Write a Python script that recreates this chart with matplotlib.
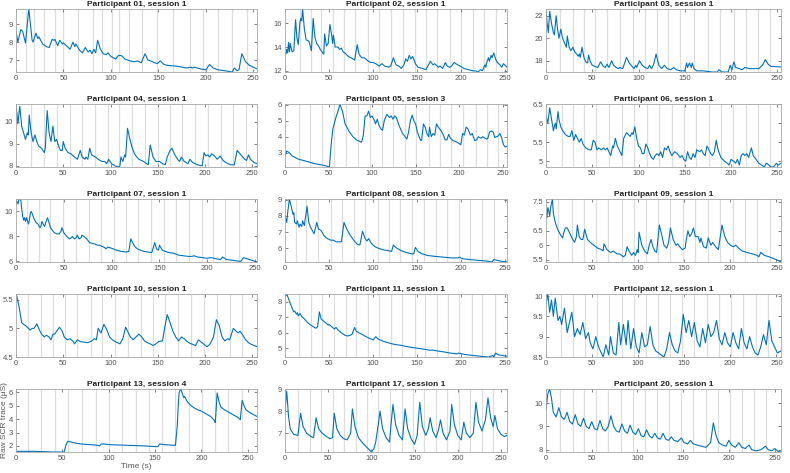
import matplotlib
matplotlib.use("Agg")
import matplotlib.pyplot as plt
from matplotlib.ticker import FormatStrFormatter

plt.rcParams['font.family'] = ['Liberation Sans', 'DejaVu Sans']

# (time s, skin conductance uS) points
p01 = [(0, 8.6), (2, 8.0), (5, 8.7), (7, 8.6), (10, 7.95), (13.5, 9.85), (17, 8.1), (18, 8.0), (21, 8.5),
       (23, 8.2), (24, 8.3), (28, 7.9), (32, 7.75), (35, 7.7), (38, 8.15), (40, 8.1), (41, 8.15), (44, 7.8),
       (46, 8.1), (49, 7.9), (50, 7.95), (54, 7.75), (57, 7.6), (60, 8.0), (62, 7.75), (63, 7.9), (67, 7.55),
       (70, 7.4), (73, 7.7), (76, 7.45), (78, 7.55), (80, 7.35), (82, 7.6), (84, 7.4), (86, 8.1), (89, 7.6),
       (92, 7.35), (95, 7.3), (97, 7.4), (100, 7.2), (105, 7.05), (108, 7.25), (111, 7.25), (115, 7.05),
       (120, 6.95), (125, 6.9), (128, 6.95), (132, 6.85), (136, 7.35), (139, 7.0), (142, 6.95), (146, 6.85),
       (149, 6.8), (152, 6.95), (156, 6.75), (160, 6.7), (170, 6.65), (180, 6.55), (184, 6.6), (186, 6.55),
       (188, 6.6), (195, 6.5), (200, 6.45), (204, 6.75), (208, 6.55), (213, 6.45), (220, 6.4), (228, 6.33),
       (230, 6.55), (233, 6.4), (235, 6.45), (238, 7.35), (242, 6.9), (246, 6.7), (250, 6.6), (254, 6.5)]
ev01 = [11, 19, 29, 41, 50, 65, 81, 91, 101, 109, 119, 133, 149, 165, 183, 197, 213, 228, 243]

p02 = [(0, 13.5), (1, 13.4), (2, 13.8), (3, 13.5), (4, 14.4), (5, 13.6), (6, 14.3), (8, 13.6), (10, 13.7),
       (12, 16.3), (13.5, 14.8), (15, 14.2), (17, 16.1), (18, 16.4), (19, 16.2), (20, 17.2), (22, 15.5),
       (24, 14.6), (27, 14.5), (29, 14.0), (30, 13.7), (32, 16.4), (34, 14.8), (36, 14.3), (38, 14.1),
       (40, 13.8), (44, 13.4), (45, 15.1), (47, 14.1), (49, 14.3), (51, 15.9), (53, 15.0), (54, 14.3),
       (55, 15.0), (57, 14.0), (60, 14.0), (62, 13.8), (64, 13.9), (66, 13.6), (68, 13.5), (72, 13.2),
       (75, 13.1), (79, 12.9), (82, 14.2), (84, 13.4), (87, 13.1), (90, 13.1), (93, 12.9), (97, 12.7),
       (100, 12.7), (103, 12.6), (107, 12.4), (110, 12.6), (113, 12.4), (118, 12.3), (120, 12.4), (123, 13.1),
       (126, 12.5), (129, 12.4), (132, 12.2), (135, 12.5), (137, 13.0), (139, 12.8), (141, 13.3), (143, 13.0),
       (145, 13.2), (148, 12.6), (151, 12.3), (156, 12.2), (160, 12.1), (165, 12.8), (168, 12.5), (170, 12.6),
       (174, 12.3), (176, 12.4), (179, 12.2), (182, 12.7), (184, 12.4), (187, 12.3), (189, 12.4), (192, 12.7),
       (196, 12.5), (199, 12.4), (203, 12.2), (208, 12.1), (213, 12.0), (216, 12.0), (219, 11.9), (222, 12.1),
       (224, 12.0), (227, 12.5), (228, 12.3), (229, 12.7), (231, 13.1), (232, 12.8), (234, 13.3), (235, 13.1),
       (237, 13.5), (239, 13.0), (241, 12.7), (244, 12.5), (246, 12.3), (248, 12.6), (252, 12.3)]
ev02 = [17, 29, 41, 54, 67, 80, 94, 107, 120, 134, 147, 160, 173, 187, 200, 213, 226, 239]

p03 = [(0, 22.6), (1, 21.5), (2.5, 20.5), (4, 22.4), (6, 21.3), (8, 20.5), (9, 20.3), (11, 22.0), (12.5, 20.8),
       (14, 20.0), (16, 20.8), (18, 20.0), (20, 19.6), (22, 19.2), (23, 20.2), (25, 19.2), (27, 18.9), (29, 19.2),
       (31, 18.8), (33, 18.6), (35, 18.4), (36, 18.6), (37, 18.3), (39, 19.2), (41, 18.3), (43, 17.9), (45, 17.8),
       (46, 18.5), (48, 17.9), (50, 17.6), (53, 17.5), (56, 17.4), (59, 17.9), (62, 17.5), (64, 17.4), (66, 17.7),
       (68, 17.4), (71, 18.0), (73, 17.6), (76, 17.4), (78, 17.3), (80, 17.4), (83, 17.3), (87, 18.3), (90, 17.8),
       (93, 17.5), (95, 17.3), (97, 17.6), (98, 17.4), (101, 18.0), (104, 17.6), (107, 17.4), (110, 17.3),
       (112, 17.6), (114, 17.3), (116, 17.6), (117, 17.9), (119, 18.6), (122, 17.6), (125, 17.3), (128, 17.6),
       (131, 17.3), (135, 17.2), (138, 17.4), (141, 17.2), (145, 17.1), (150, 17.1), (152, 17.8), (153, 17.4),
       (155, 17.8), (157, 17.4), (158, 17.8), (160, 17.3), (163, 17.1), (170, 17.1), (180, 17.0), (185, 17.0),
       (187, 17.2), (190, 17.0), (197, 17.0), (199, 17.6), (201, 17.2), (203, 17.9), (205, 17.4), (209, 17.3),
       (212, 17.2), (215, 17.4), (220, 17.3), (230, 17.3), (234, 17.6), (237, 18.1), (240, 17.7), (243, 17.5),
       (254, 17.45)]
ev03 = [15, 29, 41, 53, 66, 80, 94, 107, 120, 132, 145, 160, 175, 188, 203, 216, 229, 242]

p04 = [(0, 10.8), (2, 9.9), (4, 10.7), (6, 9.8), (8, 9.5), (10, 9.2), (12, 9.5), (13, 9.4), (14, 10.3), (16, 9.5),
       (18, 9.1), (20, 9.4), (22, 9.1), (24, 8.9), (27, 8.8), (30, 8.6), (31, 8.8), (33, 10.5), (35, 9.5),
       (37, 9.1), (39, 9.8), (41, 9.1), (43, 9.2), (45, 8.9), (47, 8.7), (49, 8.7), (50, 9.1), (52, 8.8),
       (55, 8.6), (58, 8.55), (62, 8.4), (65, 8.3), (68, 8.7), (70, 8.4), (73, 8.3), (74, 8.4), (76, 8.3),
       (78, 8.8), (80, 8.5), (84, 8.4), (87, 8.3), (91, 8.2), (94, 8.2), (96, 8.1), (98, 8.3), (101, 8.1),
       (105, 8.0), (108, 7.95), (110, 8.0), (111, 8.4), (113, 8.2), (115, 8.5), (116, 8.4), (118, 9.7),
       (120, 9.3), (123, 8.8), (126, 8.5), (130, 8.3), (135, 8.2), (140, 8.05), (142, 8.95), (145, 8.4),
       (148, 8.2), (152, 8.2), (155, 8.1), (158, 8.05), (160, 8.4), (163, 8.7), (165, 8.8), (168, 8.5),
       (171, 8.3), (173, 8.2), (175, 8.4), (178, 8.2), (182, 8.1), (184, 8.3), (187, 8.15), (192, 8.05),
       (197, 8.0), (199, 8.6), (201, 8.45), (203, 8.5), (205, 8.4), (207, 8.55), (210, 8.45), (213, 8.3),
       (216, 8.45), (219, 8.25), (222, 8.15), (227, 8.05), (231, 8.05), (234, 8.7), (238, 8.5), (242, 8.3),
       (244, 8.25), (246, 8.5), (248, 8.3), (252, 8.15), (255, 8.1)]
ev04 = [16, 30, 43, 57, 70, 84, 97, 109, 123, 136, 150, 163, 176, 189, 203, 217, 230, 243]

p05 = [(0, 2.8), (2, 3.1), (5, 3.0), (8, 2.8), (15, 2.6), (25, 2.45), (35, 2.3), (45, 2.2), (51, 2.1), (53, 3.5),
       (55, 4.5), (57, 4.9), (59, 5.3), (61, 5.6), (63, 6.05), (66, 5.6), (69, 4.8), (71, 4.6), (74, 4.3),
       (78, 4.0), (82, 3.8), (86, 3.7), (88, 3.65), (90, 4.1), (92, 5.3), (94, 5.3), (96, 5.6), (98, 5.2),
       (100, 5.3), (102, 5.1), (104, 4.8), (106, 5.1), (108, 4.7), (110, 4.5), (112, 4.4), (114, 5.0),
       (117, 5.4), (120, 5.2), (122, 5.3), (124, 5.1), (126, 5.3), (128, 5.2), (131, 4.7), (135, 4.2),
       (138, 4.0), (140, 3.85), (142, 4.3), (144, 5.0), (146, 5.35), (148, 5.0), (150, 4.8), (152, 4.3),
       (154, 4.0), (156, 3.75), (157, 3.8), (159, 4.8), (161, 4.6), (163, 4.2), (165, 4.0), (166, 4.6),
       (168, 4.0), (170, 4.2), (172, 4.1), (174, 4.8), (176, 4.6), (179, 4.4), (182, 4.1), (184, 3.8),
       (186, 3.8), (188, 4.15), (190, 3.9), (193, 3.75), (196, 3.7), (199, 3.6), (202, 3.5), (204, 4.2),
       (206, 4.1), (208, 4.6), (210, 4.5), (213, 4.1), (215, 4.2), (218, 3.75), (220, 3.8), (222, 4.0),
       (225, 3.9), (227, 4.0), (230, 3.9), (232, 3.85), (233, 3.9), (235, 4.3), (237, 4.35), (239, 4.3),
       (241, 3.95), (243, 4.0), (245, 4.05), (247, 4.2), (249, 3.9), (251, 3.5), (253, 3.35), (255, 3.4)]
ev05 = [16, 29, 42, 56, 70, 84, 98, 111, 124, 138, 151, 165, 178, 191, 204, 219, 232, 245]

p06 = [(0, 6.2), (2, 6.0), (4, 6.4), (6, 6.1), (8, 5.8), (10, 6.0), (11, 5.85), (13, 6.3), (14, 6.1), (16, 5.9),
       (18, 5.8), (21, 5.7), (24, 5.65), (26, 5.65), (28, 5.8), (30, 5.55), (32, 5.7), (34, 5.6), (36, 5.5),
       (38, 5.6), (40, 5.45), (43, 5.35), (47, 5.3), (49, 5.3), (51, 5.55), (53, 5.5), (55, 5.3), (57, 5.35),
       (60, 5.3), (62, 5.35), (64, 5.3), (66, 5.35), (68, 5.25), (70, 5.15), (72, 5.4), (73, 5.35), (75, 5.6),
       (77, 5.4), (79, 5.3), (81, 5.2), (82, 5.15), (84, 5.6), (87, 5.75), (89, 5.7), (91, 5.65), (93, 5.75),
       (94, 5.7), (96, 5.9), (98, 5.6), (100, 5.4), (102, 5.35), (104, 5.2), (106, 5.2), (108, 5.45), (110, 5.35),
       (112, 5.2), (114, 5.1), (116, 5.05), (118, 5.15), (120, 5.2), (122, 5.15), (124, 5.25), (126, 5.1),
       (128, 5.35), (130, 5.3), (132, 5.4), (134, 5.25), (136, 5.15), (139, 5.25), (142, 5.2), (145, 5.1),
       (147, 5.15), (149, 5.05), (151, 5.0), (153, 5.25), (155, 5.1), (157, 5.05), (159, 5.2), (161, 5.1),
       (163, 5.3), (166, 5.25), (168, 5.3), (170, 5.2), (172, 5.15), (174, 5.4), (176, 5.3), (178, 5.2),
       (180, 5.15), (182, 5.25), (184, 5.55), (186, 5.3), (189, 5.1), (193, 5.0), (196, 4.95), (198, 4.9),
       (200, 5.05), (203, 5.0), (205, 4.95), (207, 5.05), (209, 4.9), (211, 5.15), (213, 5.2), (215, 5.15),
       (217, 5.2), (219, 5.1), (222, 5.35), (224, 5.15), (227, 5.05), (230, 4.95), (233, 4.9), (236, 4.85),
       (238, 4.95), (241, 4.9), (243, 4.85), (246, 4.85), (249, 4.95), (251, 4.9), (254, 4.95)]
ev06 = [17, 29, 41, 54, 68, 82, 95, 109, 122, 136, 149, 162, 176, 189, 202, 216, 229, 242]

p07 = [(0, 10.7), (1, 10.8), (2, 10.6), (3, 11.0), (5, 10.9), (6, 10.2), (7, 9.6), (8, 9.3), (9, 9.5), (10, 9.2),
       (11, 9.5), (13, 9.0), (14, 9.3), (15, 9.9), (16, 10.0), (17, 9.8), (19, 9.4), (21, 9.1), (23, 9.0),
       (25, 8.7), (26, 8.8), (27, 9.2), (29, 8.9), (30, 8.8), (31, 9.1), (33, 9.5), (35, 9.0), (36, 8.7),
       (38, 8.5), (40, 8.3), (43, 8.2), (45, 8.2), (47, 8.4), (48, 8.7), (50, 8.3), (53, 8.0), (56, 7.8),
       (58, 7.9), (59, 8.0), (61, 7.8), (63, 7.9), (64, 8.1), (66, 7.8), (68, 7.9), (69, 8.1), (71, 8.0),
       (74, 7.8), (77, 7.5), (82, 7.4), (85, 7.3), (87, 7.3), (90, 7.2), (93, 7.1), (94, 7.0), (96, 7.15),
       (100, 7.05), (105, 6.9), (110, 6.8), (115, 6.75), (118, 6.8), (120, 7.8), (124, 7.2), (127, 7.0),
       (130, 6.9), (134, 6.8), (138, 6.75), (142, 6.7), (145, 7.5), (147, 7.0), (149, 6.9), (150, 7.3),
       (153, 6.9), (156, 6.8), (160, 6.7), (165, 6.65), (170, 6.5), (175, 6.45), (180, 6.4), (184, 6.4),
       (186, 6.45), (190, 6.35), (195, 6.3), (200, 6.25), (204, 6.3), (210, 6.2), (214, 6.15), (216, 6.35),
       (220, 6.15), (225, 6.1), (230, 6.05), (235, 6.0), (238, 6.3), (242, 6.2), (246, 6.1), (250, 6.0),
       (252, 5.95)]
ev07 = [12, 24, 36, 49, 63, 76, 89, 102, 115, 128, 141, 155, 167, 181, 194, 206, 219, 233]

p08 = [(0, 8.0), (2, 7.6), (3, 8.2), (5, 9.05), (7, 8.6), (9, 8.1), (10, 8.2), (11, 7.6), (13, 7.5), (14, 7.7),
       (16, 7.3), (17, 7.5), (19, 7.35), (20, 7.7), (22, 7.4), (25, 8.6), (27, 7.6), (29, 7.3), (31, 7.1),
       (33, 6.9), (36, 7.6), (38, 7.2), (41, 7.1), (44, 6.8), (48, 6.6), (52, 6.5), (55, 6.5), (58, 6.4),
       (64, 6.4), (67, 7.6), (70, 7.2), (74, 6.8), (78, 6.5), (82, 6.25), (85, 6.2), (88, 7.05), (91, 6.6),
       (93, 6.45), (95, 6.6), (98, 6.3), (102, 6.1), (106, 6.0), (112, 5.9), (118, 5.85), (121, 5.8),
       (123, 6.2), (127, 6.0), (132, 5.85), (137, 5.75), (144, 5.65), (146, 5.65), (148, 6.05), (151, 5.8),
       (156, 5.65), (162, 5.55), (170, 5.5), (180, 5.45), (190, 5.4), (196, 5.4), (198, 5.45), (202, 5.35),
       (210, 5.3), (220, 5.25), (230, 5.2), (235, 5.15), (237, 5.3), (241, 5.25), (245, 5.2), (252, 5.15)]
ev08 = [12, 24, 38, 52, 65, 78, 91, 105, 118, 131, 144, 158, 171, 184, 197, 210, 224, 237]

p09 = [(0, 7.1), (1, 6.95), (2, 7.3), (3, 7.2), (4, 7.0), (5, 7.3), (7, 7.6), (8, 7.1), (10, 6.8), (12, 6.6),
       (15, 6.4), (18, 6.25), (19, 6.4), (21, 6.6), (23, 6.6), (26, 6.4), (29, 6.2), (31, 6.1), (33, 6.3),
       (34, 6.7), (36, 6.3), (38, 6.2), (40, 6.2), (42, 6.55), (45, 6.2), (48, 6.1), (52, 6.0), (56, 5.9),
       (60, 5.85), (62, 5.8), (63, 6.05), (66, 5.85), (70, 5.75), (73, 5.8), (77, 5.7), (80, 5.7), (84, 5.6),
       (86, 5.65), (88, 5.95), (90, 5.8), (93, 5.65), (95, 5.75), (97, 5.65), (99, 5.85), (100, 5.75),
       (101, 6.45), (104, 6.0), (107, 5.8), (110, 5.7), (112, 6.0), (114, 6.2), (116, 5.95), (118, 5.8),
       (120, 5.75), (123, 6.7), (126, 6.3), (128, 6.0), (131, 5.9), (133, 6.1), (135, 6.6), (138, 6.2),
       (141, 6.0), (143, 6.05), (145, 5.95), (148, 5.85), (151, 5.9), (152, 6.15), (154, 6.5), (156, 6.3),
       (158, 6.4), (160, 6.6), (162, 6.3), (165, 6.3), (167, 6.1), (168, 6.25), (171, 5.95), (174, 5.9),
       (176, 6.25), (179, 6.0), (181, 6.1), (184, 5.95), (187, 5.85), (191, 6.7), (194, 6.3), (197, 6.1),
       (200, 6.0), (203, 5.95), (206, 6.0), (209, 5.9), (213, 5.8), (218, 5.75), (224, 5.7), (229, 5.65),
       (231, 5.6), (233, 5.75), (237, 5.65), (242, 5.6), (246, 5.55), (250, 5.5), (255, 5.42)]
ev09 = [13, 28, 41, 54, 67, 82, 96, 108, 122, 135, 149, 162, 176, 189, 203, 216, 229, 243]

p10 = [(0, 5.6), (1, 5.55), (3, 5.4), (5, 5.2), (6, 5.1), (8, 5.07), (10, 5.05), (12, 5.02), (15, 4.97),
       (17, 5.0), (19, 5.0), (21, 5.05), (22, 5.08), (24, 5.0), (27, 4.9), (30, 4.85), (32, 4.88), (35, 4.85),
       (37, 4.8), (39, 4.9), (41, 4.9), (43, 4.95), (46, 5.02), (49, 4.95), (51, 4.85), (54, 4.8), (57, 4.82),
       (60, 4.78), (62, 4.73), (65, 4.8), (68, 4.77), (72, 4.76), (76, 4.75), (80, 4.78), (83, 4.82), (85, 4.8),
       (87, 5.0), (90, 4.92), (93, 5.07), (96, 4.98), (99, 4.85), (102, 4.8), (106, 4.76), (110, 4.73),
       (113, 4.82), (116, 5.02), (118, 4.95), (121, 4.85), (124, 4.8), (127, 4.85), (130, 4.9), (133, 4.85),
       (136, 4.78), (139, 4.75), (142, 4.73), (145, 4.7), (148, 4.73), (151, 4.77), (155, 4.78), (157, 4.98),
       (160, 5.24), (163, 5.1), (166, 4.95), (169, 4.85), (172, 4.78), (175, 4.85), (178, 4.82), (181, 4.77),
       (184, 4.74), (187, 4.72), (190, 4.7), (193, 4.8), (196, 4.76), (199, 4.72), (202, 4.68), (205, 4.72),
       (207, 4.78), (209, 4.85), (212, 5.15), (215, 5.05), (218, 4.85), (221, 4.78), (224, 4.82), (226, 4.8),
       (228, 4.9), (230, 5.0), (233, 4.95), (235, 4.92), (237, 4.95), (240, 4.88), (243, 4.8), (246, 4.75),
       (249, 4.72), (252, 4.7), (255, 4.68)]
ev10 = [13, 26, 39, 52, 65, 79, 91, 105, 119, 132, 145, 158, 171, 185, 199, 213, 226, 239]

p11 = [(0, 8.3), (2, 8.5), (4, 8.2), (6, 7.9), (8, 7.6), (10, 7.35), (11, 7.4), (13, 7.2), (14, 7.3), (15, 7.1),
       (17, 7.25), (19, 7.05), (22, 6.9), (25, 6.7), (28, 6.55), (32, 6.4), (35, 6.3), (37, 6.4), (39, 7.35),
       (41, 6.9), (44, 6.75), (47, 6.6), (49, 6.5), (50, 6.55), (53, 6.4), (56, 6.25), (58, 6.35), (60, 6.2),
       (64, 6.0), (68, 5.85), (71, 5.8), (74, 5.85), (76, 5.9), (79, 6.35), (81, 6.1), (84, 6.0), (86, 5.95),
       (89, 5.85), (94, 5.7), (98, 5.6), (100, 5.55), (103, 5.75), (106, 5.6), (112, 5.45), (118, 5.35),
       (125, 5.25), (132, 5.2), (140, 5.1), (146, 5.05), (152, 5.0), (158, 4.95), (165, 4.88), (167, 4.9),
       (172, 4.85), (180, 4.78), (188, 4.7), (195, 4.65), (197, 4.7), (203, 4.62), (210, 4.57), (218, 4.52),
       (225, 4.48), (231, 4.45), (234, 4.5), (236, 4.55), (237, 4.45), (239, 4.7), (242, 4.6), (246, 4.55),
       (252, 4.5)]
ev11 = [16, 30, 42, 56, 69, 81, 94, 107, 120, 133, 147, 159, 173, 185, 198, 212, 224, 238]

p12 = [(0, 9.8), (2, 10.05), (4, 9.6), (6, 9.9), (8, 9.5), (10, 9.95), (13, 9.4), (15, 9.5), (17, 9.3), (20, 9.7),
       (23, 9.1), (25, 9.3), (28, 9.6), (31, 9.0), (34, 9.2), (37, 9.05), (40, 9.35), (43, 8.95), (46, 9.1),
       (48, 8.85), (51, 8.7), (54, 9.0), (57, 8.75), (60, 8.6), (62, 8.5), (65, 8.8), (68, 8.55), (70, 9.0),
       (73, 8.6), (76, 8.55), (79, 9.35), (81, 8.8), (84, 9.3), (87, 8.8), (89, 9.4), (92, 8.7), (95, 9.2),
       (98, 8.75), (101, 8.6), (104, 9.1), (107, 8.75), (110, 8.8), (113, 9.25), (116, 8.8), (119, 8.65),
       (122, 8.6), (125, 8.55), (128, 8.5), (131, 8.7), (134, 9.1), (137, 8.8), (140, 8.65), (143, 8.6),
       (146, 8.9), (149, 9.55), (152, 9.1), (155, 9.4), (158, 9.0), (161, 9.35), (164, 8.9), (167, 8.75),
       (170, 9.2), (173, 8.85), (176, 9.3), (179, 9.0), (182, 9.1), (185, 9.4), (188, 8.95), (191, 8.8),
       (194, 9.1), (197, 8.85), (200, 8.75), (203, 9.1), (206, 8.85), (209, 8.7), (212, 9.2), (215, 8.85),
       (218, 8.7), (221, 9.0), (224, 8.75), (227, 8.6), (230, 8.55), (233, 8.75), (236, 9.05), (239, 8.8),
       (242, 9.4), (245, 8.9), (248, 8.75), (251, 8.6), (255, 8.65)]
ev12 = [16, 29, 42, 55, 68, 82, 95, 108, 121, 135, 148, 161, 175, 188, 201, 214, 228, 241]

p13 = [(0, 1.6), (20, 1.6), (40, 1.55), (52, 1.55), (54, 2.1), (56, 2.35), (59, 2.3), (65, 2.2), (70, 2.15),
       (80, 2.1), (88, 2.05), (90, 2.0), (92, 2.15), (95, 2.15), (100, 2.1), (120, 2.05), (140, 2.0), (150, 1.95),
       (153, 1.95), (155, 2.15), (160, 2.1), (170, 2.05), (172, 2.05), (174, 3.5), (175, 5.0), (176, 6.0),
       (178, 6.25), (179, 6.0), (181, 5.6), (182, 5.7), (184, 5.4), (186, 5.2), (189, 5.0), (192, 4.85),
       (196, 4.7), (200, 4.6), (205, 4.4), (210, 4.2), (214, 3.9), (215, 3.75), (216, 4.8), (217, 5.95),
       (219, 5.3), (221, 4.9), (225, 4.7), (230, 4.5), (235, 4.3), (240, 4.1), (242, 3.95), (243, 4.7),
       (244, 5.4), (246, 5.0), (248, 4.7), (252, 4.5), (256, 4.35), (260, 4.2)]
ev13 = [13, 27, 42, 56, 71, 86, 100, 114, 129, 144, 158, 172, 187, 201, 215, 229, 244]

p17 = [(0, 8.0), (2, 8.9), (4, 7.8), (6, 7.2), (10, 6.95), (15, 6.9), (18, 7.9), (21, 7.3), (25, 7.0), (30, 6.85),
       (33, 6.8), (36, 7.7), (39, 7.2), (43, 7.0), (48, 6.85), (52, 6.75), (55, 6.8), (57, 7.9), (60, 7.2),
       (64, 6.9), (68, 6.75), (72, 6.7), (76, 7.0), (78, 8.1), (81, 7.3), (85, 6.8), (90, 6.55), (95, 6.35),
       (100, 6.15), (103, 6.3), (105, 6.6), (108, 7.4), (110, 8.0), (113, 7.2), (117, 6.8), (121, 6.6),
       (123, 7.5), (125, 8.3), (128, 7.4), (132, 6.9), (136, 6.7), (139, 8.1), (142, 7.2), (146, 6.75),
       (150, 6.5), (153, 6.9), (156, 8.4), (159, 7.3), (163, 6.9), (166, 7.2), (168, 7.7), (171, 7.1),
       (175, 6.8), (178, 7.2), (180, 7.6), (183, 7.0), (187, 6.7), (191, 7.1), (193, 8.3), (196, 7.4),
       (200, 6.9), (204, 6.7), (207, 7.5), (210, 7.0), (214, 6.8), (218, 7.0), (221, 8.4), (224, 7.5),
       (228, 7.1), (232, 7.6), (235, 8.6), (238, 7.7), (241, 7.3), (243, 7.8), (246, 7.2), (250, 6.95),
       (254, 6.85), (257, 6.9)]
ev17 = [15, 29, 42, 55, 68, 82, 95, 108, 121, 135, 148, 161, 175, 188, 201, 214, 228, 241]

p20 = [(0, 9.7), (2, 10.4), (4, 10.6), (6, 10.2), (8, 9.6), (11, 9.4), (14, 9.8), (17, 9.4), (20, 9.3), (23, 9.6),
       (26, 9.2), (29, 9.1), (32, 9.5), (35, 9.1), (38, 9.0), (41, 9.35), (44, 9.0), (47, 8.9), (50, 9.2),
       (53, 8.9), (56, 8.85), (59, 9.25), (62, 8.9), (65, 8.8), (68, 9.0), (71, 9.45), (74, 9.0), (77, 8.8),
       (80, 8.75), (83, 9.1), (86, 8.8), (89, 8.7), (92, 9.05), (95, 8.75), (98, 8.65), (101, 8.9), (104, 8.6),
       (107, 8.55), (110, 8.85), (113, 8.6), (116, 8.5), (119, 8.7), (122, 8.5), (125, 8.45), (128, 8.7),
       (131, 8.45), (134, 8.4), (137, 8.55), (140, 8.4), (144, 8.35), (148, 8.5), (151, 8.3), (155, 8.25),
       (158, 8.4), (161, 8.25), (165, 8.2), (170, 8.15), (175, 8.1), (180, 8.3), (183, 9.15), (186, 8.6),
       (189, 8.3), (193, 8.2), (197, 8.15), (200, 8.4), (203, 8.2), (207, 8.1), (211, 8.3), (214, 8.1),
       (218, 8.05), (222, 8.2), (225, 8.0), (230, 7.95), (235, 8.0), (240, 8.15), (243, 8.0), (247, 7.95),
       (250, 8.05), (254, 7.92), (257, 7.9)]
ev20 = [15, 29, 42, 55, 68, 82, 95, 108, 121, 135, 148, 161, 175, 188, 201, 214, 228, 241]

titles = ["Participant 01, session 1", "Participant 02, session 1", "Participant 03, session 1",
          "Participant 04, session 1", "Participant 05, session 3", "Participant 06, session 1",
          "Participant 07, session 1", "Participant 08, session 1", "Participant 09, session 1",
          "Participant 10, session 1", "Participant 11, session 1", "Participant 12, session 1",
          "Participant 13, session 4", "Participant 17, session 1", "Participant 20, session 1"]
yticks = [[7, 8, 9], [12, 14, 16], [18, 20, 22],
          [8, 9, 10], [3, 4, 5, 6], [5, 5.5, 6, 6.5],
          [6, 8, 10], [6, 7, 8, 9], [5.5, 6, 6.5, 7, 7.5],
          [4.5, 5, 5.5], [5, 6, 7, 8], [8.5, 9, 9.5, 10],
          [2, 3, 4, 5, 6], [7, 8, 9], [8, 9, 10]]
traces = [p01, p02, p03, p04, p05, p06, p07, p08, p09, p10, p11, p12, p13, p17, p20]
events = [ev01, ev02, ev03, ev04, ev05, ev06, ev07, ev08, ev09, ev10, ev11, ev12, ev13, ev17, ev20]

W, H = 790, 473
fig = plt.figure(figsize=(W / 100, H / 100), dpi=100)

col_left = [16, 285, 546]
col_right = [257, 507, 781]
row_top = [9, 104, 199, 294, 389]
ax_h = 63

blue = '#0072BD'
for i in range(15):
    r, c = divmod(i, 3)
    x0, x1 = col_left[c], col_right[c]
    y0 = row_top[r]
    ax = fig.add_axes([x0 / W, 1 - (y0 + ax_h) / H, (x1 - x0) / W, ax_h / H])
    t = [p[0] for p in traces[i]]
    v = [p[1] for p in traces[i]]
    for e in events[i]:
        ax.axvline(e, color='#dedede', lw=0.9, zorder=0)
    ax.plot(t, v, color=blue, lw=0.8)
    ax.set_xlim(0, t[-1])
    ax.set_ylim(min(v), max(v))
    ax.set_xticks([0, 50, 100, 150, 200, 250])
    ax.set_yticks(yticks[i])
    ax.yaxis.set_major_formatter(FormatStrFormatter('%g'))
    ax.tick_params(direction='in', length=2, width=0.5, labelsize=5.5, colors='#555555',
                   top=True, right=True, pad=2)
    for s in ax.spines.values():
        s.set_color('#a6a6a6')
        s.set_linewidth(0.6)
    ax.set_title(titles[i], fontsize=6, fontweight='bold', pad=2, color='#222222')
    if i == 12:
        ax.set_xlabel('Time (s)', fontsize=6, color='#555555', labelpad=1)
        ax.set_ylabel('Raw SCR trace (\u03bcS)', fontsize=6, color='#555555', labelpad=1)

fig.savefig('out.png', dpi=100)
